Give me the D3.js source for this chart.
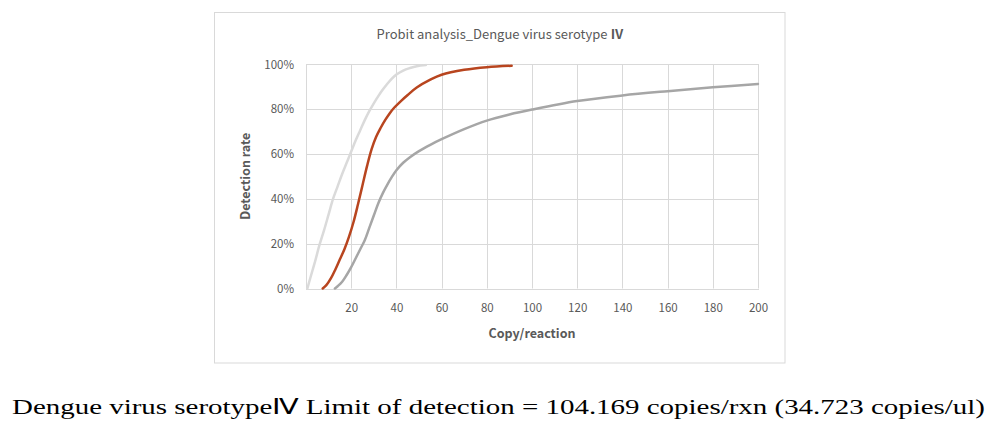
<!DOCTYPE html>
<html>
<head>
<meta charset="utf-8">
<script src="https://cdn.jsdelivr.net/npm/d3@7"></script>
<style>
  html, body { margin: 0; padding: 0; background: #fff; }
  svg { display: block; }
</style>
</head>
<body>
<svg id="chart" width="998" height="421"></svg>
<script>
// ---- data ----
const xTicks = [20, 40, 60, 80, 100, 120, 140, 160, 180, 200];
const yTicks = [0, 0.2, 0.4, 0.6, 0.8, 1.0];

// upper bound (light gray)
const upperX = [0.6, 2, 4, 6, 8, 10, 12, 14, 16, 18, 20, 22, 24, 26, 28, 30, 32, 34, 36, 38, 40, 43, 46, 49, 53];
const upperY = [0, 0.05, 0.12, 0.195, 0.26, 0.33, 0.40, 0.455, 0.51, 0.56, 0.61, 0.66, 0.705, 0.75, 0.79, 0.825, 0.857, 0.886, 0.912, 0.935, 0.953, 0.971, 0.982, 0.99, 0.995];

// probit fit (red)
const fitX = [7.4, 9, 11, 13, 15, 17, 19, 21, 23, 25, 27, 29, 31, 33, 35, 37, 39, 42, 45, 49, 55, 60, 70, 80, 91];
const fitY = [0, 0.015, 0.045, 0.085, 0.13, 0.175, 0.23, 0.295, 0.375, 0.46, 0.545, 0.62, 0.675, 0.715, 0.75, 0.78, 0.805, 0.835, 0.862, 0.895, 0.93, 0.952, 0.974, 0.986, 0.992];

// lower bound (dark gray)
const lowerX = [12.8, 14, 16, 18, 20, 22, 24, 26, 28, 30, 32, 34, 36, 38, 40, 43, 46, 50, 55, 60, 70, 80, 90, 100, 120, 140, 160, 180, 200];
const lowerY = [0, 0.01, 0.03, 0.06, 0.095, 0.135, 0.175, 0.215, 0.27, 0.325, 0.38, 0.425, 0.463, 0.497, 0.527, 0.56, 0.585, 0.612, 0.64, 0.665, 0.71, 0.748, 0.775, 0.797, 0.835, 0.86, 0.879, 0.896, 0.911];

const titleText = "Probit analysis_Dengue virus serotype ";
const titleNum = "Ⅳ";
const xTitle = "Copy/reaction";
const yTitle = "Detection rate";
const caption = "Dengue virus serotypeⅣ Limit of detection = 104.169 copies/rxn (34.723 copies/ul)";

// ---- layout ----
const svg = d3.select("#chart");
const plot = { left: 306, right: 758, top: 64, bottom: 288.5 };
const x = d3.scaleLinear().domain([0, 200]).range([plot.left, plot.right]);
const y = d3.scaleLinear().domain([0, 1]).range([plot.bottom, plot.top]);
const sansFont = "'Noto Sans CJK KR', 'Noto Sans', sans-serif";
const textColor = "#595959";
const gridColor = "#d9d9d9";

// chart border
svg.append("rect")
  .attr("x", 214.5).attr("y", 12.5)
  .attr("width", 570.5).attr("height", 350.5)
  .attr("fill", "#fff").attr("stroke", "#d9d9d9").attr("stroke-width", 1);

// gridlines
const gridX = [0].concat(xTicks);
svg.append("g").selectAll("line").data(gridX).join("line")
  .attr("x1", d => Math.round(x(d)) + 0.5).attr("x2", d => Math.round(x(d)) + 0.5)
  .attr("y1", plot.top).attr("y2", plot.bottom)
  .attr("stroke", gridColor).attr("stroke-width", 1);
svg.append("g").selectAll("line").data(yTicks).join("line")
  .attr("x1", plot.left).attr("x2", plot.right + 1)
  .attr("y1", d => Math.round(y(d)) + 0.5).attr("y2", d => Math.round(y(d)) + 0.5)
  .attr("stroke", gridColor).attr("stroke-width", 1);

// axes labels via d3 axes (no domain / tick lines)
const xAxis = d3.axisBottom(x).tickValues(xTicks).tickSize(0).tickPadding(0);
const gx = svg.append("g").attr("transform", `translate(0,${plot.bottom})`).call(xAxis);
gx.select(".domain").remove();
gx.selectAll("text")
  .attr("dy", null).attr("y", 23)
  .attr("fill", textColor).style("font-family", sansFont).style("font-size", "11.5px");

const yAxis = d3.axisLeft(y).tickValues(yTicks).tickFormat(d3.format(".0%")).tickSize(0).tickPadding(0);
const gy = svg.append("g").attr("transform", `translate(294,0)`).call(yAxis);
gy.select(".domain").remove();
gy.selectAll("text")
  .attr("dy", "0.35em").attr("x", 0)
  .attr("fill", textColor).style("font-family", sansFont).style("font-size", "11.5px");

// lines
const line = d3.line().x(d => x(d[0])).y(d => y(d[1])).curve(d3.curveCatmullRom.alpha(0.5));
const series = [
  { xs: upperX, ys: upperY, color: "#dadada", w: 2.5 },
  { xs: lowerX, ys: lowerY, color: "#a6a6a6", w: 2.5 },
  { xs: fitX, ys: fitY, color: "#b8451f", w: 2.5 }
];
series.forEach(s => {
  const pts = s.xs.map((v, i) => [v, s.ys[i]]);
  svg.append("path").datum(pts)
    .attr("d", line).attr("fill", "none")
    .attr("stroke", s.color).attr("stroke-width", s.w)
    .attr("stroke-linecap", "round").attr("stroke-linejoin", "round");
});

// title
const t = svg.append("text")
  .attr("x", 500).attr("y", 39).attr("text-anchor", "middle")
  .attr("fill", textColor).style("font-family", sansFont).style("font-size", "13px");
t.append("tspan").text(titleText);
t.append("tspan").attr("font-weight", "bold").text(titleNum);

// axis titles
svg.append("text")
  .attr("x", (plot.left + plot.right) / 2).attr("y", 338).attr("text-anchor", "middle")
  .attr("fill", textColor).attr("font-weight", "bold")
  .style("font-family", sansFont).style("font-size", "12.5px").text(xTitle);
svg.append("text")
  .attr("transform", `translate(250,${(plot.top + plot.bottom) / 2}) rotate(-90)`)
  .attr("text-anchor", "middle")
  .attr("fill", textColor).attr("font-weight", "bold")
  .style("font-family", sansFont).style("font-size", "12.5px").text(yTitle);

// caption
svg.append("text")
  .attr("x", 12).attr("y", 414)
  .attr("fill", "#000")
  .attr("textLength", 973).attr("lengthAdjust", "spacingAndGlyphs")
  .style("font-family", "'Liberation Serif', serif").style("font-size", "22px")
  .text(caption);
</script>
</body>
</html>
